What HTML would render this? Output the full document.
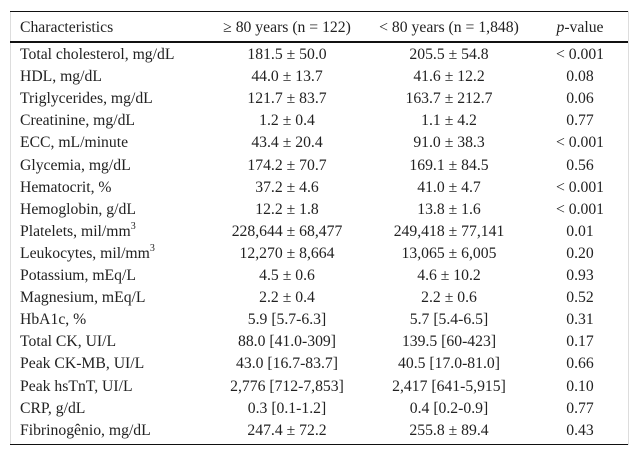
<!DOCTYPE html>
<html><head><meta charset="utf-8"><style>
body{margin:0;width:638px;height:457px;background:#fff;position:relative;font-family:"Liberation Serif",serif;font-size:15.7px;color:#222;overflow:hidden}
.box{position:absolute;left:10px;top:11px;width:617px;height:434px;border-left:1px solid #ddd;border-right:1px solid #ddd}
.hl{position:absolute;left:10px;width:618px;background:#111}
.c{position:absolute;white-space:nowrap;line-height:16px}
.c1{left:20px}
.c2{left:207px;width:160px;text-align:center}
.c3{left:369px;width:160px;text-align:center}
.c4{left:530px;width:100px;text-align:center}
sup{font-size:10px;line-height:0;vertical-align:7px}
</style></head><body>
<div class="box"></div>
<div class="hl" style="top:11px;height:1px"></div>
<div class="hl" style="top:41px;height:2px"></div>
<div class="hl" style="top:444px;height:1px"></div>
<div id="t">
<div class="c c1" style="top:20px">Characteristics</div>
<div class="c c2" style="top:20px">≥ 80 years (n = 122)</div>
<div class="c c3" style="top:20px">&lt; 80 years (n = 1,848)</div>
<div class="c c4" style="top:20px"><i>p</i>-value</div>
</div>
<script>
const labels=["Total cholesterol, mg/dL","HDL, mg/dL","Triglycerides, mg/dL","Creatinine, mg/dL","ECC, mL/minute","Glycemia, mg/dL","Hematocrit, %","Hemoglobin, g/dL","Platelets, mil/mm<sup>3</sup>","Leukocytes, mil/mm<sup>3</sup>","Potassium, mEq/L","Magnesium, mEq/L","HbA1c, %","Total CK, UI/L","Peak CK-MB, UI/L","Peak hsTnT, UI/L","CRP, g/dL","Fibrinogênio, mg/dL"];
const old=["181.5 ± 50.0","44.0 ± 13.7","121.7 ± 83.7","1.2 ± 0.4","43.4 ± 20.4","174.2 ± 70.7","37.2 ± 4.6","12.2 ± 1.8","228,644 ± 68,477","12,270 ± 8,664","4.5 ± 0.6","2.2 ± 0.4","5.9 [5.7-6.3]","88.0 [41.0-309]","43.0 [16.7-83.7]","2,776 [712-7,853]","0.3 [0.1-1.2]","247.4 ± 72.2"];
const young=["205.5 ± 54.8","41.6 ± 12.2","163.7 ± 212.7","1.1 ± 4.2","91.0 ± 38.3","169.1 ± 84.5","41.0 ± 4.7","13.8 ± 1.6","249,418 ± 77,141","13,065 ± 6,005","4.6 ± 10.2","2.2 ± 0.6","5.7 [5.4-6.5]","139.5 [60-423]","40.5 [17.0-81.0]","2,417 [641-5,915]","0.4 [0.2-0.9]","255.8 ± 89.4"];
const pv=["&lt; 0.001","0.08","0.06","0.77","&lt; 0.001","0.56","&lt; 0.001","&lt; 0.001","0.01","0.20","0.93","0.52","0.31","0.17","0.66","0.10","0.77","0.43"];
const t=document.getElementById('t');
labels.forEach((l,i)=>{
  const y=47+i*22.1;
  [[l,'c1'],[old[i],'c2'],[young[i],'c3'],[pv[i],'c4']].forEach(([v,c],j)=>{
    const d=document.createElement('div');
    d.className='c '+c;d.style.top=y+'px';d.innerHTML=v;
    
    
    t.appendChild(d);
  });
});
</script>
</body></html>
